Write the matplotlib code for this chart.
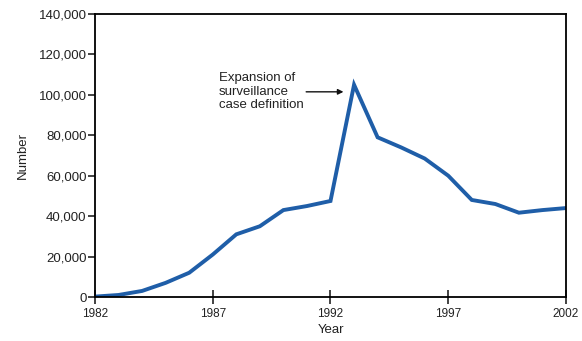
import matplotlib
matplotlib.use("Agg")
import matplotlib.pyplot as plt

years = list(range(1982, 2003))
cases = [200, 1000, 3000, 7000, 12000, 21000, 31000, 35000, 43000, 45000, 47500,
         105000, 79000, 74000, 68500, 60000, 48000, 46000, 41700, 43000, 44000]
xticks = [1982, 1987, 1992, 1997, 2002]
yticks = list(range(0, 140001, 20000))

plt.rcParams['font.family'] = ['Liberation Sans', 'DejaVu Sans']
fig = plt.figure(figsize=(5.82, 3.41), dpi=100)
ax = fig.add_axes([95/582, 44/341, 471/582, 283/341])
ax.plot(years, cases, color='#1f5ea8', lw=2.8, solid_joinstyle='miter')
ax.set_xlim(1982, 2002)
ax.set_ylim(0, 140000)
ax.set_xticks(xticks)
ax.set_yticks(yticks)
ax.set_yticklabels([f"{v:,}" for v in yticks])
ax.tick_params(axis='y', direction='out', length=5, width=1.2, labelsize=9.5, pad=1, colors='#222222')
ax.tick_params(axis='x', direction='inout', length=10, width=1.2, labelsize=8.5, pad=3, colors='#222222')
for s in ax.spines.values():
    s.set_linewidth(1.3)
ax.set_xlabel('Year', fontsize=9.5, labelpad=3, color='#222222')
ax.set_ylabel('Number', fontsize=9.5, labelpad=7, color='#222222')
ax.annotate('Expansion of\nsurveillance\ncase definition', xy=(1992.55, 101500),
            xytext=(1987.25, 101500), fontsize=9.5, va='center', ha='left',
            color='#222222', linespacing=1.15,
            arrowprops=dict(arrowstyle='-|>', color='#111111', lw=1, shrinkA=44, shrinkB=0,
                            mutation_scale=8))
fig.savefig('out.png', dpi=100)
